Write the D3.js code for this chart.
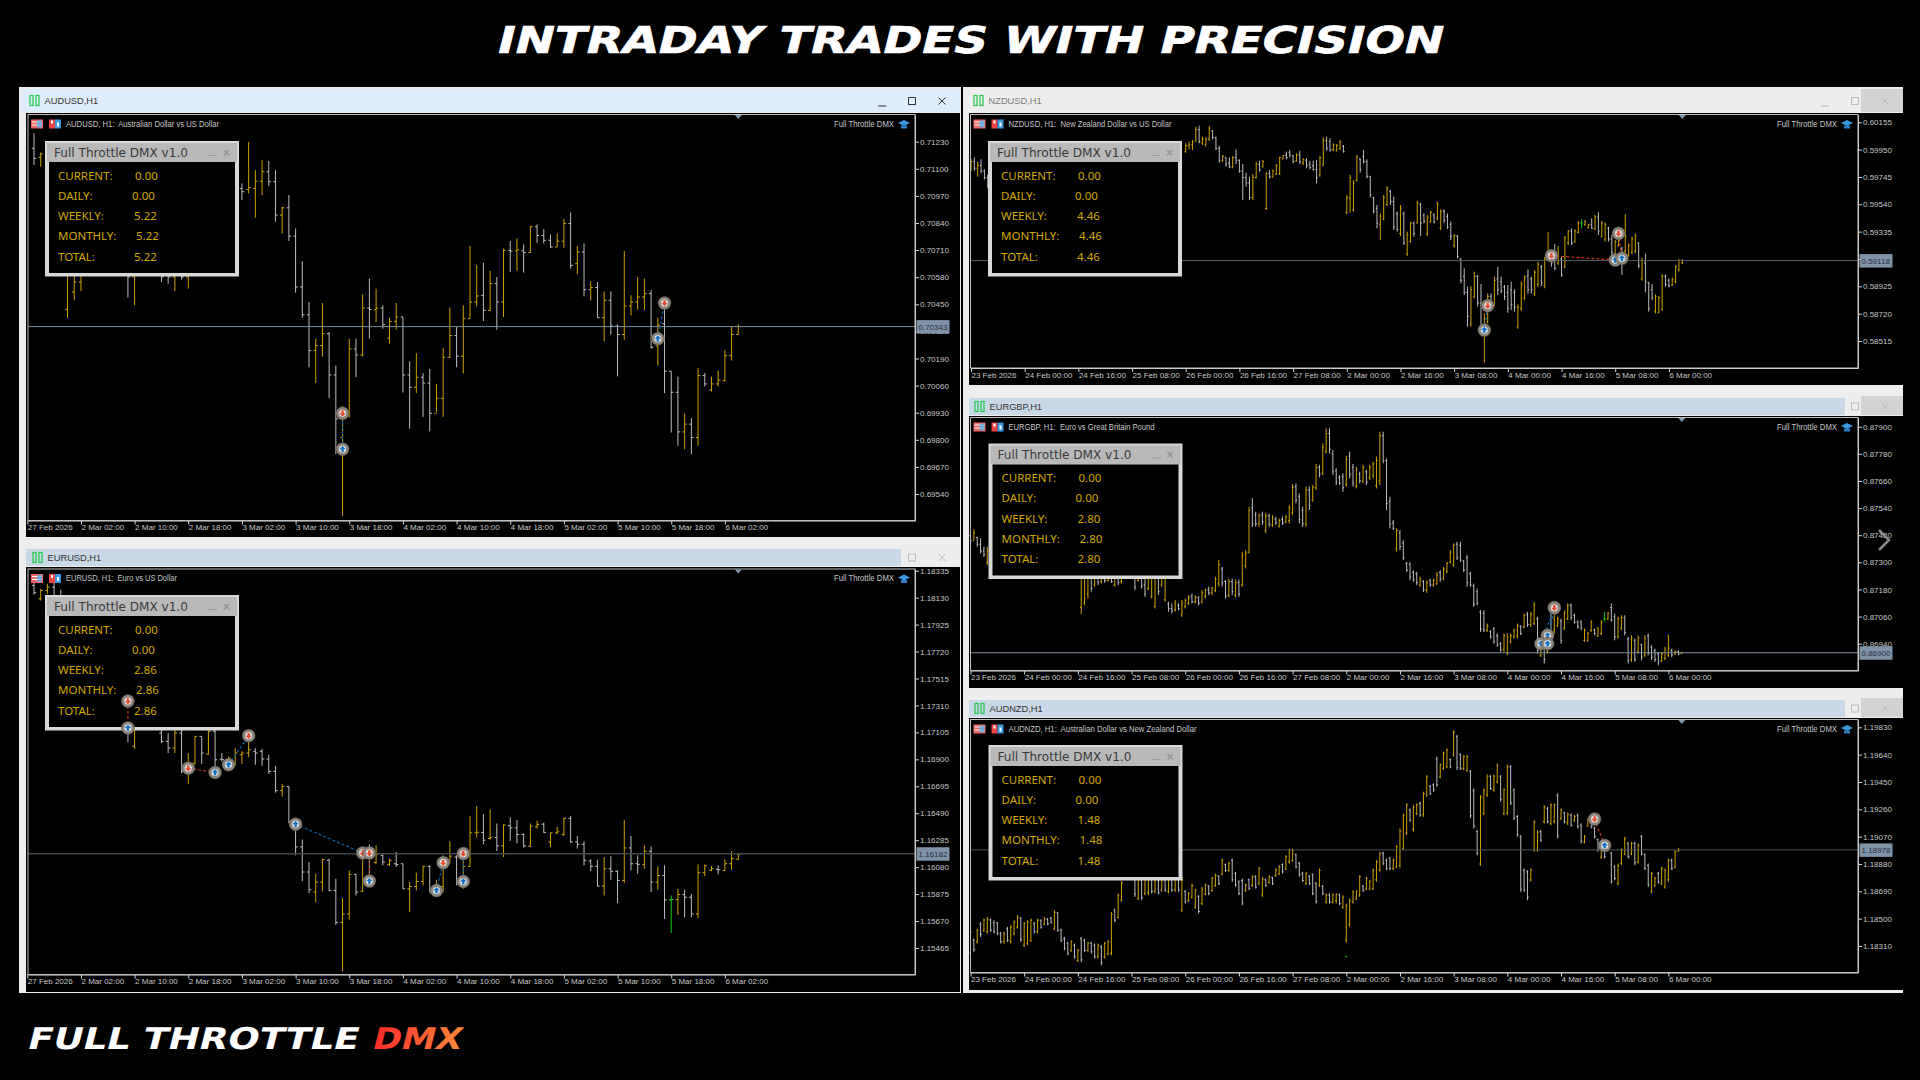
<!doctype html>
<html lang="en">
<head>
<meta charset="utf-8">
<title>Intraday trades with precision</title>
<script src="https://cdnjs.cloudflare.com/ajax/libs/d3/7.8.5/d3.min.js"></script>
<style>
  html, body { margin: 0; padding: 0; background: #000; overflow: hidden; }
  svg { display: block; }
  text { font-family: "Liberation Sans", sans-serif; }
</style>
</head>
<body>
<script>
// prices are in points (1/100000), rows are [open, high, low, close], null = bar hidden behind the dashboard
const audusdBars = [[71198,71271,71118,71150],[71155,71178,71110,71171],null,null,null,[70426,70750,70384,70700],[70509,70700,70469,70557],[70557,70800,70514,70750],null,null,null,null,null,null,
[70700,70750,70482,70581],[70581,70800,70445,70700],null,null,null,[70650,70700,70557,70581],[70620,70680,70549,70581],[70581,70700,70514,70650],[70650,70700,70568,70581],[70581,70720,70525,70680],null,null,null,null,null,null,null,
[71005,71030,70950,70990],[71001,71229,70982,71010],[71006,71094,70865,71041],[71041,71142,70974,71086],[71086,71137,71017,71038],[71038,71094,70846,70878],[70878,70918,70790,70913],[70913,70974,70754,70777],[70777,70814,70506,70533],[70533,70657,70386,70400],
[70400,70461,70148,70228],[70228,70285,70072,70252],[70252,70456,70199,70309],[70309,70317,70000,70111],[70111,70156,69731,69900],[69810,69963,69434,69915],[69915,70285,69907,70236],[70236,70285,70100,70207],[70207,70498,70199,70432],[70432,70573,70285,70425],
[70424,70525,70365,70432],[70432,70445,70333,70352],[70288,70386,70261,70368],[70368,70456,70328,70389],[70389,70389,70027,70111],[70111,70177,69854,70052],[70052,70215,70024,70100],[70100,70120,69910,70072],[70072,70140,69840,69927],[69927,70068,69931,69999],
[69999,70241,69910,70196],[70196,70434,70193,70300],[70300,70341,70148,70201],[70201,70445,70119,70381],[70381,70730,70381,70461],[70461,70637,70440,70490],[70493,70649,70370,70421],[70421,70610,70418,70549],[70549,70581,70328,70461],[70461,70717,70389,70709],
[70709,70754,70605,70705],[70706,70766,70610,70712],[70706,70738,70602,70698],[70698,70826,70697,70822],[70822,70834,70745,70780],[70780,70810,70742,70757],[70757,70785,70721,70725],[70725,70790,70725,70753],[70753,70859,70721,70838],[70838,70891,70621,70637],
[70645,70730,70594,70701],[70701,70742,70488,70520],[70520,70560,70469,70530],[70530,70557,70386,70386],[70386,70512,70273,70469],[70469,70512,70305,70346],[70346,70353,70104,70305],[70305,70706,70280,70442],[70442,70493,70397,70461],[70461,70581,70424,70485],
[70485,70573,70421,70501],[70501,70517,70237,70244],[70250,70386,70156,70350],[70357,70437,70024,70129],[70129,70129,69835,70028],[70028,70103,69771,69838],[69838,69927,69755,69875],[69875,69904,69731,69811],[69811,70145,69771,70108],[70108,70120,70056,70068],
[70039,70103,70032,70068],[70068,70132,70056,70087],[70084,70231,70080,70204],[70204,70341,70180,70305],[70305,70354,70305,70343]];

const eurusdBars = [[118223,118249,118152,118167],[118121,118197,118108,118185],[118185,118236,118159,118210],[118210,118249,118050,118140],[118140,118190,117980,118000],null,null,null,null,null,null,null,null,null,
[117340,117400,117030,117140],[117000,117200,116979,117150],null,null,null,[117100,117150,117024,117037],[117037,117100,116948,116986],[116986,117150,116948,117100],[117100,117150,116795,116808],[116808,116948,116711,116833],[116871,117075,116859,117075],[117075,117075,116866,116948],
[116940,117121,116935,117114],[117114,117126,116808,116897],[116902,116948,116884,116897],[116897,116922,116820,116910],[116859,116986,116854,116948],[116935,116961,116864,116948],[116948,117037,116917,116973],[116961,116986,116859,116948],[116961,116979,116851,116902],[116902,116935,116790,116808],
[116808,116851,116647,116662],[116662,116713,116616,116693],[116693,116693,116413,116425],[116413,116451,116170,116234],[116234,116290,115974,116043],[116043,116119,115882,115908],[115890,116030,115813,115966],[115966,116145,115897,116137],[116132,116145,115897,115902],[115902,115992,115640,115660],
[115660,115846,115290,115724],[115724,116055,115681,116025],[116025,116030,115864,115890],[115897,116183,115890,116183],[116183,116254,115966,116170],[116114,116247,116106,116178],[116170,116178,116094,116119],[116101,116145,116089,116132],[116106,116196,116081,116100],[116106,116106,115915,115915],
[115915,115966,115737,115933],[115933,116038,115902,115971],[115971,116089,115941,116086],[116086,116094,115882,115902],[115890,115984,115864,115941],[115933,116170,115890,116106],[116119,116277,116106,116163],[116157,116170,115941,115966],[115966,116183,115915,116086],[116086,116469,116081,116341],
[116341,116545,116305,116345],[116344,116484,116254,116285],[116298,116520,116290,116305],[116305,116412,116203,116242],[116242,116405,116157,116400],[116395,116458,116280,116379],[116379,116438,116260,116328],[116328,116336,116229,116242],[116239,116412,116234,116392],[116387,116433,116374,116405],
[116407,116418,116341,116344],[116272,116343,116234,116341],[116341,116387,116331,116349],[116328,116456,116318,116451],[116451,116469,116265,116272],[116272,116316,116221,116254],[116254,116277,116094,116132],[116127,116140,116050,116086],[116086,116137,115933,115936],[115936,116157,115864,116068],
[116068,116163,115984,116048],[116048,116055,115806,115979],[115979,116438,115959,116226],[116226,116316,116055,116106],[116106,116170,116030,116101],[116101,116247,116068,116201],[116201,116239,115890,115966],[115966,116086,115908,116017],[116017,116094,115686,115831],[115831,115864,115579,115834],
[115834,115915,115716,115872],[115872,115908,115698,115851],[115851,115877,115698,115724],[115724,116101,115693,116038],[116038,116101,116012,116089],[116055,116089,116050,116068],[116063,116094,116025,116060],[116055,116140,116050,116106],[116106,116201,116060,116145],[116140,116188,116137,116178]];

const nzdusdBars = [[59800,59880,59790,59860],[59860,59892,59792,59810],[59810,59860,59747,59830],[59830,59877,59772,59790],[59790,59802,59727,59740],[59740,59765,59660,59680],
null,null,null,null,null,null,null,null,null,null,null,null,null,null,null,null,null,null,null,null,null,null,null,null,null,null,null,null,null,null,null,null,null,null,null,null,null,null,null,null,null,null,null,null,null,null,null,null,null,null,null,null,null,null,null,null,null,null,
[59935,59997,59927,59980],[59980,60010,59952,59990],[59985,60022,59947,60005],[60015,60122,60010,60100],[60100,60130,59997,60010],[60000,60047,59985,60030],[59990,60042,59972,60030],[60030,60127,60015,60110],[60090,60097,60027,60040],[60040,60047,59947,59960],
[59960,59977,59852,59870],[59865,59910,59860,59900],[59890,59892,59822,59840],[59850,59892,59810,59820],[59820,59902,59810,59890],[59890,59952,59842,59870],[59870,59877,59777,59790],[59790,59842,59572,59740],[59740,59777,59672,59700],[59700,59747,59572,59590],
[59590,59767,59572,59740],[59740,59860,59735,59840],[59840,59867,59785,59800],[59820,59872,59817,59860],[59510,59785,59497,59770],[59770,59797,59735,59745],[59745,59802,59742,59790],[59765,59842,59760,59830],[59770,59897,59760,59890],[59880,59910,59877,59905],
[59910,59935,59877,59890],[59930,59947,59892,59910],[59905,59910,59847,59860],[59865,59922,59860,59910],[59910,59942,59842,59860],[59850,59885,59835,59875],[59870,59885,59810,59830],[59840,59867,59802,59815],[59830,59867,59792,59800],[59800,59872,59697,59740],
[59760,59902,59747,59890],[59830,60042,59827,60020],[60020,60047,59942,59960],[60010,60035,59935,59950],[59950,59997,59940,59985],[59945,59992,59935,59980],[59960,60022,59947,60005],[59975,59985,59927,59935],[59480,59610,59467,59590],[59590,59760,59477,59740],
[59500,59722,59485,59700],[59720,59910,59710,59895],[59880,59885,59777,59800],[59900,59947,59847,59860],[59860,59877,59735,59750],[59750,59752,59592,59610],[59590,59597,59472,59490],[59510,59535,59360,59400],[59390,59472,59272,59450],[59430,59610,59422,59590],
[59540,59677,59527,59660],[59640,59647,59535,59560],[59560,59597,59347,59370],[59470,59485,59335,59350],[59320,59535,59302,59510],[59470,59485,59235,59250],[59170,59335,59152,59310],[59260,59410,59252,59400],[59400,59410,59297,59320],[59400,59567,59397,59550],
[59540,59552,59302,59400],[59460,59472,59397,59410],[59320,59460,59302,59440],[59410,59492,59402,59480],[59460,59472,59397,59410],[59430,59560,59422,59540],[59360,59502,59347,59490],[59490,59502,59397,59420],[59450,59472,59355,59370],[59390,59410,59272,59300],
[59230,59317,59215,59305],[59300,59310,59135,59150],[59130,59135,58947,58970],[59000,59060,58860,58880],[58880,58922,58622,58700],[58640,58927,58622,58900],[58850,59035,58835,59000],[59000,59010,58772,58800],[58800,58942,58597,58620],[58600,58722,58352,58680],
[58660,58872,58647,58850],[58850,58872,58797,58810],[58790,58997,58772,58970],[58980,59072,58860,58900],[58960,58997,58872,58890],[58920,58935,58822,58850],[58880,58935,58727,58760],[58900,58960,58747,58790],[58880,58902,58735,58770],[58620,58790,58607,58770],
[58760,58960,58742,58940],[58840,59010,58822,58990],[59000,59052,58872,58900],[58980,58997,58872,58900],[58870,59047,58852,59030],[58940,59110,58922,59090],[59070,59085,58927,58950],[58930,59147,58910,59130],[59130,59332,59122,59170],[59180,59197,59072,59100],
[59130,59242,59047,59060],[59100,59227,59085,59120],[59130,59147,58997,59010],[59070,59302,59060,59290],[59250,59347,59235,59340],[59340,59360,59235,59250],[59260,59352,59252,59340],[59330,59415,59322,59400],[59400,59427,59360,59400],[59390,59422,59377,59410],
[59365,59392,59360,59385],[59390,59435,59355,59360],[59355,59460,59347,59445],[59445,59480,59310,59340],[59300,59415,59292,59400],[59280,59405,59260,59390],[59360,59372,59260,59280],[59280,59310,59160,59180],[59170,59272,59160,59260],[59230,59372,59222,59350],
[59210,59222,59010,59140],[59190,59465,59172,59300],[59160,59247,59147,59230],[59180,59297,59167,59280],[59190,59322,59172,59300],[59250,59255,59060,59080],[58980,59140,58967,59120],[59100,59172,58880,58960],[58950,58960,58735,58760],[58900,58942,58822,58840],
[58740,58865,58722,58850],[58730,58852,58722,58840],[58750,59017,58742,59000],[59000,59015,58922,58940],[58970,58985,58917,58930],[58935,58992,58927,58975],[58960,59085,58947,59070],[59050,59130,59035,59120],[59100,59130,59092,59118]];

const eurgbpBars = [[87420,87428,87376,87395],[87395,87446,87398,87430],[87410,87413,87369,87380],[87380,87406,87339,87350],[87350,87369,87324,87335],[87300,87369,87287,87350],
null,null,null,null,null,null,null,null,null,null,null,null,null,null,null,null,null,null,null,null,null,null,null,null,null,null,null,
[87100,87290,87071,87270],[87120,87270,87110,87240],[87160,87280,87140,87250],[87260,87300,87170,87185],[87200,87290,87192,87260],[87260,87290,87199,87210],[87215,87270,87206,87255],[87255,87290,87209,87220],[87220,87280,87214,87260],[87260,87280,87209,87215],[87200,87270,87192,87250],[87250,87280,87199,87210],[87215,87270,87206,87255],null,null,null,
[87280,87300,87177,87190],[87220,87280,87214,87260],[87260,87280,87184,87195],[87200,87260,87147,87160],[87185,87260,87177,87240],[87150,87250,87140,87230],[87105,87260,87096,87240],[87240,87260,87155,87170],[87200,87270,87192,87250],[87135,87270,87125,87250],[87115,87125,87081,87095],[87095,87118,87073,87085],[87090,87133,87081,87120],[87110,87118,87088,87095],[87070,87133,87059,87120],
[87105,87140,87096,87130],[87120,87155,87110,87145],[87150,87162,87118,87125],[87125,87155,87118,87145],[87145,87150,87110,87120],[87125,87177,87118,87165],[87150,87184,87140,87175],[87180,87192,87155,87165],[87165,87192,87155,87185],[87175,87236,87169,87225],
[87205,87310,87192,87290],[87270,87280,87192,87210],[87215,87221,87140,87150],[87155,87228,87144,87215],[87215,87228,87155,87170],[87155,87224,87144,87210],[87210,87224,87147,87160],[87200,87347,87192,87330],[87285,87354,87273,87340],[87345,87546,87339,87530],
[87540,87583,87457,87470],[87510,87524,87457,87470],[87470,87516,87457,87505],[87510,87524,87465,87480],[87440,87519,87428,87505],[87505,87516,87457,87470],[87465,87509,87457,87495],[87490,87502,87465,87475],[87460,87494,87454,87485],[87490,87502,87465,87475],
[87480,87509,87472,87500],[87485,87553,87472,87540],[87520,87646,87509,87630],[87635,87649,87561,87575],[87590,87605,87472,87490],[87530,87546,87457,87470],[87470,87635,87457,87620],[87620,87635,87531,87550],[87575,87642,87568,87630],[87630,87735,87620,87720],
[87720,87731,87676,87690],[87695,87827,87686,87810],[87790,87893,87782,87870],[87870,87893,87782,87800],[87780,87797,87686,87700],[87705,87716,87642,87655],[87675,87686,87642,87650],[87680,87694,87612,87630],[87645,87771,87635,87755],[87770,87790,87672,87690],
[87720,87735,87635,87650],[87640,87723,87627,87710],[87690,87701,87649,87660],[87660,87731,87649,87720],[87700,87709,87642,87655],[87675,87731,87664,87720],[87685,87745,87672,87735],[87640,87768,87627,87750],[87660,87878,87642,87860],[87860,87878,87738,87750],
[87750,87760,87531,87560],[87570,87590,87450,87470],[87475,87487,87443,87450],[87360,87450,87347,87440],[87430,87443,87354,87370],[87385,87398,87310,87320],[87295,87302,87258,87265],[87290,87302,87221,87235],[87255,87265,87214,87225],[87250,87258,87199,87210],
[87200,87236,87192,87225],[87215,87221,87169,87180],[87175,87221,87165,87210],[87220,87228,87192,87200],[87200,87228,87192,87220],[87205,87258,87199,87245],[87255,87265,87214,87225],[87230,87280,87221,87270],[87260,87302,87251,87295],[87300,87354,87295,87345],
[87290,87384,87280,87375],[87380,87391,87310,87320],[87375,87391,87302,87310],[87305,87310,87258,87265],[87320,87332,87192,87210],[87250,87258,87192,87200],[87195,87206,87103,87115],[87170,87184,87110,87120],[87080,87088,86992,87005],[87075,87088,86992,87000],
[87000,87029,86992,87020],[86995,87000,86963,86970],[87005,87014,86940,86950],[86975,86985,86926,86935],[86940,86948,86904,86912],[86915,86985,86904,86975],[86900,86985,86889,86970],[86950,86985,86940,86975],[86970,87007,86963,87000],[86975,87029,86963,87020],
[87015,87022,86977,86985],[87015,87073,87007,87065],[87070,87081,87014,87025],[87025,87081,87014,87070],[87030,87125,87022,87110],[87050,87059,86896,86910],[86890,86926,86881,86920],[86980,86992,86852,86870],[86905,86963,86896,86955],[87090,87103,86970,86985],
[87000,87088,86985,87075],[87020,87059,87014,87050],[87040,87051,86940,86955],[87010,87088,87000,87075],[87050,87118,87044,87110],[87110,87118,87044,87055],[87065,87073,87029,87035],[87035,87044,87007,87015],[87035,87044,87000,87010],[86955,87007,86948,87000],
[86955,86992,86948,86985],[87000,87044,86992,87035],[87000,87007,86977,86985],[86975,87014,86970,87005],[86985,87044,86977,87035],[87050,87081,87037,87050],[87050,87081,87044,87075],[87100,87118,87037,87045],[87060,87073,86955,86970],[86970,87059,86963,87050],
[87010,87066,87000,87055],[87055,87066,86977,86990],[86960,86970,86852,86865],[86870,86977,86859,86965],[86955,86963,86859,86870],[86905,86977,86896,86965],[86935,86940,86867,86880],[86890,86977,86881,86965],[86975,86985,86889,86900],[86925,86933,86867,86880],
[86910,86918,86859,86870],[86895,86904,86844,86860],[86865,86904,86859,86895],[86875,86926,86867,86915],[86890,86980,86881,86920],[86910,86918,86881,86890],[86895,86911,86889,86905],[86905,86911,86889,86895],[86897,86904,86896,86900]];

const audnzdBars = [[118260,118431,118245,118410],[118350,118361,118269,118285],[118340,118431,118327,118420],[118460,118477,118373,118390],[118420,118501,118408,118490],[118410,118512,118396,118495],[118490,118501,118408,118420],[118475,118489,118396,118410],[118470,118477,118385,118400],[118395,118408,118327,118340],
[118340,118408,118327,118395],[118430,118443,118338,118350],[118340,118454,118327,118440],[118395,118489,118385,118475],[118440,118524,118431,118510],[118500,118512,118338,118355],[118315,118477,118303,118465],[118330,118489,118315,118475],[118350,118501,118338,118490],[118465,118477,118396,118410],
[118410,118501,118396,118490],[118485,118496,118431,118440],[118460,118512,118454,118500],[118495,118505,118454,118465],[118505,118512,118466,118475],[118430,118559,118419,118545],[118540,118547,118408,118420],[118420,118431,118338,118350],[118360,118373,118280,118295],[118330,118338,118245,118260],
[118280,118350,118269,118340],[118315,118327,118222,118235],[118210,118292,118199,118280],[118360,118373,118199,118215],[118350,118361,118269,118280],[118280,118338,118269,118330],[118330,118338,118257,118270],[118315,118327,118222,118235],[118235,118327,118222,118315],[118305,118315,118176,118195],
[118235,118338,118222,118330],[118255,118350,118245,118340],[118260,118547,118245,118530],[118560,118570,118477,118490],[118510,118675,118501,118660],[118630,118760,118617,118750],null,null,null,[118780,118790,118651,118670],
[118640,118790,118628,118770],[118770,118790,118628,118645],[118675,118790,118663,118770],[118680,118790,118663,118770],[118770,118790,118675,118690],[118690,118790,118675,118770],[118770,118790,118668,118680],[118700,118790,118686,118770],[118770,118790,118686,118700],[118690,118790,118675,118770],
[118770,118790,118686,118700],[118700,118790,118686,118770],[118770,118790,118686,118700],[118560,118790,118547,118770],[118690,118698,118605,118620],[118625,118686,118617,118675],[118650,118744,118640,118730],[118580,118709,118570,118695],[118655,118663,118535,118550],[118605,118721,118593,118705],
[118670,118744,118663,118735],[118725,118733,118663,118675],[118695,118791,118686,118780],[118730,118814,118721,118800],[118795,118802,118733,118745],[118810,118918,118802,118905],[118875,118883,118825,118835],[118835,118895,118825,118885],[118905,118918,118756,118770],[118815,118825,118721,118735],
[118755,118767,118663,118675],[118765,118779,118593,118610],[118695,118744,118686,118735],[118770,118779,118698,118710],[118730,118802,118721,118790],[118790,118802,118709,118720],[118745,118860,118733,118850],[118665,118791,118651,118775],[118770,118779,118721,118730],[118750,118802,118744,118790],
[118785,118791,118733,118745],[118800,118849,118791,118840],[118810,118872,118802,118860],[118875,118883,118814,118825],[118845,118941,118837,118930],[118895,118988,118883,118975],[118905,118988,118895,118975],[118945,118953,118849,118860],[118885,118895,118791,118805],[118815,118825,118756,118765],
[118745,118825,118733,118815],[118795,118802,118733,118745],[118805,118814,118663,118675],[118745,118756,118605,118620],[118735,118849,118721,118835],[118725,118733,118663,118675],[118615,118675,118605,118665],[118665,118675,118605,118615],[118615,118675,118605,118665],[118625,118675,118605,118670],
[118665,118675,118593,118605],[118580,118663,118570,118650],[118350,118605,118334,118590],[118460,118640,118443,118625],[118615,118698,118605,118685],[118635,118698,118628,118690],[118665,118802,118651,118790],[118725,118733,118686,118695],[118705,118791,118698,118780],[118705,118767,118698,118760],
[118710,118849,118698,118835],[118770,118907,118756,118895],[118840,118965,118825,118950],[118955,118965,118872,118885],[118905,118918,118837,118850],[118920,118930,118837,118850],[118850,118918,118837,118905],[118860,119011,118849,119000],[118870,119127,118849,119110],[118990,119231,118976,119215],
[119095,119301,119081,119290],[119255,119266,119173,119185],[119120,119289,119104,119275],[119230,119301,119220,119290],[119300,119313,119208,119220],[119225,119382,119208,119370],[119360,119498,119347,119485],[119420,119429,119359,119370],[119430,119440,119382,119395],[119610,119626,119417,119430],
[119485,119579,119475,119570],[119545,119661,119533,119650],[119555,119684,119545,119670],[119605,119614,119545,119555],[119640,119811,119626,119795],[119765,119777,119533,119550],[119640,119649,119533,119545],[119545,119637,119533,119625],[119530,119637,119521,119625],[119525,119533,119197,119215],
[119390,119405,119127,119145],[119105,119115,118941,118955],[118880,119359,118867,119345],[119230,119405,119220,119390],[119360,119503,119347,119490],[119490,119498,119394,119405],[119395,119503,119382,119490],[119450,119579,119440,119565],[119485,119498,119313,119330],[119230,119405,119220,119395],
[119235,119572,119220,119555],[119555,119568,119289,119305],[119395,119405,119185,119200],[119210,119220,119069,119085],[119070,119081,118686,118705],[118835,118849,118686,118700],[118825,118837,118628,118650],[118770,118849,118756,118840],[118980,119185,118965,119170],[118980,119115,118965,119100],
[119105,119115,119034,119045],[119175,119289,119162,119275],[119265,119278,119162,119175],[119160,119301,119150,119290],[119175,119301,119162,119290],[119355,119371,119057,119075],[119195,119266,119185,119255],[119235,119243,119162,119175],[119165,119238,119150,119225],[119220,119231,119139,119150],
[119180,119220,119173,119210],[119220,119231,119127,119140],[119150,119162,119023,119040],[119030,119081,119023,119070],[119145,119197,119139,119190],[119200,119208,119127,119140],[119130,119139,119057,119070],[119050,119057,118965,118980],[118925,119011,118918,119000],[119010,119023,118918,118930],
[118975,119011,118965,119000],[118955,118965,118744,118760],[118860,118872,118767,118780],[118745,118883,118733,118870],[118885,118988,118872,118975],[118950,119069,118941,119055],[119020,119034,118918,118930],[118950,119034,118941,119020],[119025,119034,118872,118890],[118895,119023,118883,119010],
[119070,119081,118941,118955],[118945,118953,118837,118850],[118870,118883,118721,118735],[118690,118825,118675,118815],[118730,118791,118721,118780],[118815,118825,118744,118755],[118745,118860,118733,118850],[118720,118849,118709,118835],[118770,118918,118756,118905],[118905,118918,118837,118850],
[118860,118976,118849,118965],[118970,118992,118965,118978]];

// bars drawn in green on the terminal
const eurusdGreen = [95];
const nzdusdGreen = [182];
const eurgbpGreen = [189];
const audnzdGreen = [];
const audusdGreen = [];

// lone green dash under the AUDNZD bars: [bar, price]
const audnzdDash = [[112,118236]];

const audusdPriceTicks = [71230,71100,70970,70840,70710,70580,70450,70320,70190,70060,69930,69800,69670,69540];
const eurusdPriceTicks = [118335,118130,117925,117720,117515,117310,117105,116900,116695,116490,116285,116080,115875,115670,115465];
const nzdusdPriceTicks = [60155,59950,59745,59540,59335,59130,58925,58720,58515];
const eurgbpPriceTicks = [87900,87780,87660,87540,87420,87300,87180,87060,86940];
const audnzdPriceTicks = [119830,119640,119450,119260,119070,118880,118690,118500,118310];

const audusdCurrent = 70343;
const eurusdCurrent = 116182;
const nzdusdCurrent = 59118;
const eurgbpCurrent = 86900;
const audnzdCurrent = 118978;

// time axis: bar index of each label
const shortTimeIdx = [-1,7,15,23,31,39,47,55,63,71,79,87,95,103];
const shortTimeLabels = ["27 Feb 2026","2 Mar 02:00","2 Mar 10:00","2 Mar 18:00","3 Mar 02:00","3 Mar 10:00","3 Mar 18:00","4 Mar 02:00","4 Mar 10:00","4 Mar 18:00","5 Mar 02:00","5 Mar 10:00","5 Mar 18:00","6 Mar 02:00"];
const longTimeIdx = [0,16,32,48,64,80,96,112,128,144,160,176,192,208];
const longTimeLabels = ["23 Feb 2026","24 Feb 00:00","24 Feb 16:00","25 Feb 08:00","26 Feb 00:00","26 Feb 16:00","27 Feb 08:00","2 Mar 00:00","2 Mar 16:00","3 Mar 08:00","4 Mar 00:00","4 Mar 16:00","5 Mar 08:00","6 Mar 00:00"];

// dashboard
const dashLabels = ["CURRENT:","DAILY:","WEEKLY:","MONTHLY:","TOTAL:"];
const audusdStats = ["0.00","0.00","5.22","5.22","5.22"];
const eurusdStats = ["0.00","0.00","2.86","2.86","2.86"];
const nzdusdStats = ["0.00","0.00","4.46","4.46","4.46"];
const eurgbpStats = ["0.00","0.00","2.80","2.80","2.80"];
const audnzdStats = ["0.00","0.00","1.48","1.48","1.48"];

// trades: [first bar, first price, first side, second bar, second price, second side]
const audusdTrades = [[46,69755,"buy",46,69927,"sell"],[93,70285,"buy",94,70456,"sell"]];
const eurusdTrades = [[14,117343,"sell",14,117139,"buy"],[23,116833,"sell",27,116800,"buy"],[29,116859,"buy",32,117080,"sell"],[39,116407,"buy",49,116188,"sell"],[50,116188,"sell",50,115974,"buy"],[60,115902,"buy",61,116114,"sell"],[64,115971,"buy",64,116183,"sell"]];
const nzdusdTrades = [[153,58597,"buy",154,58780,"sell"],[173,59155,"sell",192,59122,"buy"],[193,59322,"sell",194,59135,"buy"]];
const eurgbpTrades = [[172,86977,"sell",172,86977,"buy"],[170,86940,"buy",174,87099,"sell"],[172,86940,"buy",174,87099,"sell"]];
const audnzdTrades = [[186,119192,"sell",189,119009,"buy"]];

const panels = [
  {symbol:"AUDUSD", desc:"AUDUSD, H1:  Australian Dollar vs US Dollar", descW:153, bars:audusdBars, green:audusdGreen, ticks:audusdPriceTicks, current:audusdCurrent, stats:audusdStats, trades:audusdTrades, dashes:[],
   idx:shortTimeIdx, labels:shortTimeLabels, last:105, x0:34, x1:738.3, tickY0:141.7, tickY1:494, tickLen:2.2, iconX:30,
   win:[19,87,942,453], title:[21,89,939,23], titleFill:"#deedfb", text:"#333", btn:"#333", black:[26,113,934,424], plot:[28,114.5,915,520.5], dash:[45,141], lineCol:"#7d8e9f", lineW:1},
  {symbol:"EURUSD", desc:"EURUSD, H1:  Euro vs US Dollar", descW:111, bars:eurusdBars, green:eurusdGreen, ticks:eurusdPriceTicks, current:eurusdCurrent, stats:eurusdStats, trades:eurusdTrades, dashes:[],
   idx:shortTimeIdx, labels:shortTimeLabels, last:105, x0:34, x1:738.3, tickY0:570.7, tickY1:948, tickLen:2.2, iconX:33,
   win:[19,540,942,453], title:[26,549,875,17], titleFill:"#c9d8e7", text:"#333", btn:"#bbb", black:[26,567,934,425], plot:[28,569,915,974.5], dash:[45,595], lineCol:"#3f474f", lineW:1.6},
  {symbol:"NZDUSD", desc:"NZDUSD, H1:  New Zealand Dollar vs US Dollar", descW:163, bars:nzdusdBars, green:nzdusdGreen, ticks:nzdusdPriceTicks, current:nzdusdCurrent, stats:nzdusdStats, trades:nzdusdTrades, dashes:[],
   idx:longTimeIdx, labels:longTimeLabels, last:212, x0:971, x1:1682.3, tickY0:122.3, tickY1:341, tickLen:1.2, iconX:974,
   win:[963,87,940,310], title:[965,89,938,23], titleFill:"#eeeeee", text:"#777", btn:"#bbb", black:[969,113,934,272], plot:[970.5,114.5,1858,368], dash:[988,141], lineCol:"#56616c", lineW:1},
  {symbol:"EURGBP", desc:"EURGBP, H1:  Euro vs Great Britain Pound", descW:146, bars:eurgbpBars, green:eurgbpGreen, ticks:eurgbpPriceTicks, current:eurgbpCurrent, stats:eurgbpStats, trades:eurgbpTrades, dashes:[],
   idx:longTimeIdx, labels:longTimeLabels, last:212, x0:970.5, x1:1681.8, tickY0:426.7, tickY1:643.7, tickLen:1.2, iconX:975,
   win:[963,388,940,305], title:[969,398,876,17], titleFill:"#c9d8e7", text:"#333", btn:"#bbb", black:[969,416,934,272], plot:[970.5,417.5,1858,670.5], dash:[988.5,443.5], lineCol:"#7d8e9f", lineW:1},
  {symbol:"AUDNZD", desc:"AUDNZD, H1:  Australian Dollar vs New Zealand Dollar", descW:188, bars:audnzdBars, green:audnzdGreen, ticks:audnzdPriceTicks, current:audnzdCurrent, stats:audnzdStats, trades:audnzdTrades, dashes:audnzdDash,
   idx:longTimeIdx, labels:longTimeLabels, last:212, x0:970.5, x1:1681.8, tickY0:727.3, tickY1:946, tickLen:1.2, iconX:975,
   win:[963,690,940,303], title:[969,700,876,17], titleFill:"#c9d8e7", text:"#333", btn:"#bbb", black:[969,718,934,272], plot:[970.5,719.5,1858,972.5], dash:[988.5,745], lineCol:"#4a545e", lineW:1}
];

const GOLD = "#e2b600", WHITE = "#d2d2d2", GREEN = "#1fe01f";
const dashRowY = [34.7,54.7,75,95,115.5], dashValX = [90,87,89,91,89];

const svg = d3.select("body").append("svg").attr("width",1920).attr("height",1080);
svg.append("rect").attr("width",1920).attr("height",1080).attr("fill","#000");

const defs = svg.append("defs");
const grad = defs.append("linearGradient").attr("id","dmx");
grad.append("stop").attr("offset","0%").attr("stop-color","#ff2a2a");
grad.append("stop").attr("offset","100%").attr("stop-color","#ff8a3c");

// headline and logo
svg.append("text").attr("transform","translate(495,53) skewX(-14)")
   .attr("textLength",946).attr("lengthAdjust","spacingAndGlyphs")
   .attr("fill","#fff").attr("stroke","#fff").attr("stroke-width",0.7).attr("font-size",37).attr("font-weight","bold")
   .style("font-family","'DejaVu Sans'").text("INTRADAY TRADES WITH PRECISION");
svg.append("text").attr("transform","translate(26,1049) skewX(-14)")
   .attr("textLength",331).attr("lengthAdjust","spacingAndGlyphs")
   .attr("fill","#fff").attr("font-size",30).attr("font-weight","bold")
   .style("font-family","'DejaVu Sans'").text("FULL THROTTLE");
svg.append("text").attr("transform","translate(371,1049) skewX(-14)")
   .attr("textLength",89).attr("lengthAdjust","spacingAndGlyphs")
   .attr("fill","url(#dmx)").attr("font-size",30).attr("font-weight","bold")
   .style("font-family","'DejaVu Sans'").text("DMX");

function box(g,r,fill){ return g.append("rect").attr("x",r[0]).attr("y",r[1]).attr("width",r[2]).attr("height",r[3]).attr("fill",fill); }

function drawChrome(g,p){
  box(g,p.win,"#eeeeee");
  box(g,p.title,p.titleFill);
  box(g,[p.win[0]+p.win[2]-42,p.win[1]+ (p.win[1]<100?2:8),42,p.title[3]+ (p.win[1]<100?0:2)],p.win[0]>900?"#d2d2d2":"none");
  box(g,p.black,"#000");
  // candlestick icon
  const ix = p.iconX, iy = p.title[1]+p.title[3]/2;
  [0,6].forEach(d => g.append("rect").attr("x",ix+d).attr("y",iy-5).attr("width",3).attr("height",10).attr("fill","none").attr("stroke","#22c84a").attr("stroke-width",1.2));
  g.append("text").attr("x",ix+14.5).attr("y",iy+3.5).attr("font-size",9.3).attr("fill",p.text).text(p.symbol+",H1");
  // window buttons
  const bx = p.win[0]>900 ? [1825,1855,1885] : [882,912,942];
  const by = p.title[1]+p.title[3]/2-(p.win[1]<100?-0.5:0);
  if (p.win[1]<100) g.append("line").attr("x1",bx[0]-4).attr("x2",bx[0]+4).attr("y1",by+5).attr("y2",by+5).attr("stroke",p.btn);
  g.append("rect").attr("x",bx[1]-3.5).attr("y",by-3.5).attr("width",7).attr("height",7).attr("fill","none").attr("stroke",p.btn);
  g.append("path").attr("d",`M${bx[2]-3.5},${by-3.5}L${bx[2]+3.5},${by+3.5}M${bx[2]+3.5},${by-3.5}L${bx[2]-3.5},${by+3.5}`).attr("stroke",p.btn);
}

function drawDashboard(g,p){
  const x0 = p.dash[0], y0 = p.dash[1];
  box(g,[x0,y0,194,135.5],"#d8d8d8");
  box(g,[x0+2,y0+2,190,19],"#b9b9b9");
  box(g,[x0+4,y0+21,186,111],"#000");
  g.append("text").attr("x",x0+9).attr("y",y0+15.5).attr("font-size",13).attr("fill","#3a3a3a")
   .attr("textLength",134).attr("lengthAdjust","spacingAndGlyphs").style("font-family","'DejaVu Sans'").text("Full Throttle DMX v1.0");
  g.append("line").attr("x1",x0+163).attr("x2",x0+172).attr("y1",y0+14.5).attr("y2",y0+14.5).attr("stroke","#9a9a9a");
  g.append("text").attr("x",x0+178).attr("y",y0+15.5).attr("font-size",12).attr("font-weight","bold").attr("fill","#949494").text("×");
  const rows = g.selectAll("g.row").data(dashLabels).enter().append("g").attr("class","row");
  rows.append("text").attr("x",x0+13).attr("y",(d,i)=>y0+dashRowY[i]+4).attr("font-size",11.5).attr("fill","#cfa800")
      .style("font-family","'Noto Sans'").text(d=>d);
  rows.append("text").attr("x",(d,i)=>x0+dashValX[i]).attr("y",(d,i)=>y0+dashRowY[i]+4).attr("font-size",11.5).attr("fill","#cfa800")
      .style("font-family","'Noto Sans'").text((d,i)=>p.stats[i]);
}

function drawHeader(g,p,tri){
  const left = p.plot[0], right = p.plot[2], top = p.plot[1];
  const iy = top+5;
  // list and chart icons
  box(g,[left+3,iy,12,9],"#e66");
  [2,5].forEach(d => box(g,[left+4,iy+d,10,1],"#fff"));
  box(g,[left+9,iy+1,5,7],"#5ab0ea").attr("opacity",0.8);
  box(g,[left+21,iy,6,9],"#e44");
  box(g,[left+27,iy,6,9],"#3a9ae0");
  box(g,[left+23,iy+1,2,3],"#fff"); box(g,[left+29,iy+3,2,4],"#fff");
  g.append("text").attr("x",left+38).attr("y",iy+7).attr("font-size",8.5).attr("fill","#c6c6c6")
   .attr("textLength",p.descW).attr("lengthAdjust","spacingAndGlyphs").style("white-space","pre").text(p.desc);
  g.append("text").attr("x",right-81).attr("y",iy+7).attr("font-size",8.5).attr("fill","#c6c6c6")
   .attr("textLength",60).attr("lengthAdjust","spacingAndGlyphs").text("Full Throttle DMX");
  g.append("path").attr("d",`M${right-17},${iy+3.5}l6,-3l6,3l-6,3z`).attr("fill","#3a9ae0");
  g.append("path").attr("d",`M${right-14},${iy+6}v3h6v-3`).attr("fill","#2a7fc0");
  g.append("path").attr("d",`M${tri-3.5},${top+0.5}h7l-3.5,4z`).attr("fill","#8098b0");
}

function drawTrades(g,p,x,y){
  p.trades.forEach(t => {
    g.append("line").attr("x1",x(t[0])).attr("y1",y(t[1])).attr("x2",x(t[3])).attr("y2",y(t[4]))
     .attr("stroke",t[2]==="buy"?"#0b5fa8":"#c9321e").attr("stroke-width",1.2).attr("stroke-dasharray","3,2");
  });
  const marks = [];
  p.trades.forEach(t => { marks.push([t[0],t[1],t[2]]); marks.push([t[3],t[4],t[5]]); });
  const m = g.selectAll("g.mark").data(marks).enter().append("g").attr("class","mark")
             .attr("transform",d=>`translate(${x(d[0])},${y(d[1])})`);
  m.append("circle").attr("r",6.5).attr("fill","#8c8478").attr("stroke","#4a4a4a").attr("stroke-width",0.5);
  m.append("circle").attr("r",3.6).attr("fill","#d8dde0");
  m.append("path").attr("d",d=>d[2]==="buy"?"M0,-3.2L3.2,0H1.2V2.8H-1.2V0H-3.2Z":"M0,3.2L3.2,0H1.2V-2.8H-1.2V0H-3.2Z")
   .attr("fill",d=>d[2]==="buy"?"#1271c9":"#ea4a2a");
}

function drawPanel(p){
  const g = svg.append("g").attr("class","panel "+p.symbol);
  drawChrome(g,p);
  const left = p.plot[0], top = p.plot[1], right = p.plot[2], bottom = p.plot[3];

  // scales are pinned on read-off tick positions, then stretched to the plot box
  const xa = d3.scaleLinear().domain([0,p.last]).range([p.x0,p.x1]);
  const x = d3.scaleLinear().domain([xa.invert(left),xa.invert(right)]).range([left,right]);
  const ya = d3.scaleLinear().domain([p.ticks[0],p.ticks[p.ticks.length-1]]).range([p.tickY0,p.tickY1]);
  const y = d3.scaleLinear().domain([ya.invert(top),ya.invert(bottom)]).range([top,bottom]);

  const colour = (d,i) => p.green.includes(i) ? GREEN : (d[3] >= d[0] ? GOLD : WHITE);
  const barData = p.bars.map((d,i) => d ? {d:d,i:i} : null).filter(Boolean);

  g.append("g").selectAll("path").data(barData).enter().append("path")
    .attr("d",b => {
      const cx = x(b.i), o = y(b.d[0]), h = y(b.d[1]), l = y(b.d[2]), c = y(b.d[3]);
      return `M${cx},${h}V${l}M${cx-p.tickLen},${o}H${cx}M${cx},${c}H${cx+p.tickLen}`;
    })
    .attr("fill","none").attr("stroke",b => colour(b.d,b.i)).attr("stroke-width",0.9);

  g.append("g").selectAll("path").data(p.dashes).enter().append("path")
    .attr("d",d => `M${x(d[0])-1},${y(d[1])}H${x(d[0])+1}`).attr("stroke",GREEN);

  // current price line
  g.append("line").attr("x1",left).attr("x2",right).attr("y1",y(p.current)).attr("y2",y(p.current))
   .attr("stroke",p.lineCol).attr("stroke-width",p.lineW);

  // axes
  const axisStyle = a => {
    a.selectAll("path,line").attr("stroke","#d8d8d8");
    a.selectAll("text").attr("fill","#c8c8c8").attr("font-size",8).style("font-family","'Liberation Sans'");
  };
  g.append("g").attr("transform",`translate(${right},0)`)
    .call(d3.axisRight(y).tickValues(p.ticks).tickSize(4).tickSizeOuter(0).tickPadding(1).tickFormat(d => (d/1e5).toFixed(5)))
    .call(axisStyle);
  const xAxis = g.append("g").attr("transform",`translate(0,${bottom})`)
    .call(d3.axisBottom(x).tickValues(p.idx).tickSize(4).tickSizeOuter(0).tickPadding(1).tickFormat((d,i) => p.labels[i]))
    .call(axisStyle);
  xAxis.selectAll("text").attr("text-anchor","start").attr("dy","0.62em");
  g.append("rect").attr("x",left).attr("y",top).attr("width",right-left).attr("height",bottom-top).attr("fill","none").attr("stroke","#bdbdbd");

  // current price label
  box(g,[right+1.5,y(p.current)-6.5,33,13.5],"#7f93a8");
  g.append("text").attr("x",right+3.5).attr("y",y(p.current)+3).attr("font-size",8).attr("fill","#27303a").text((p.current/1e5).toFixed(5));

  drawHeader(g,p,x(p.last));
  drawDashboard(g,p);
  drawTrades(g,p,x,y);
}

panels.forEach(drawPanel);

// chart shift chevron on the EURGBP window
svg.append("path").attr("d","M1879,530L1889,540L1879,550").attr("fill","none").attr("stroke","#8a8a8a").attr("stroke-width",2.5);
</script>
</body>
</html>
